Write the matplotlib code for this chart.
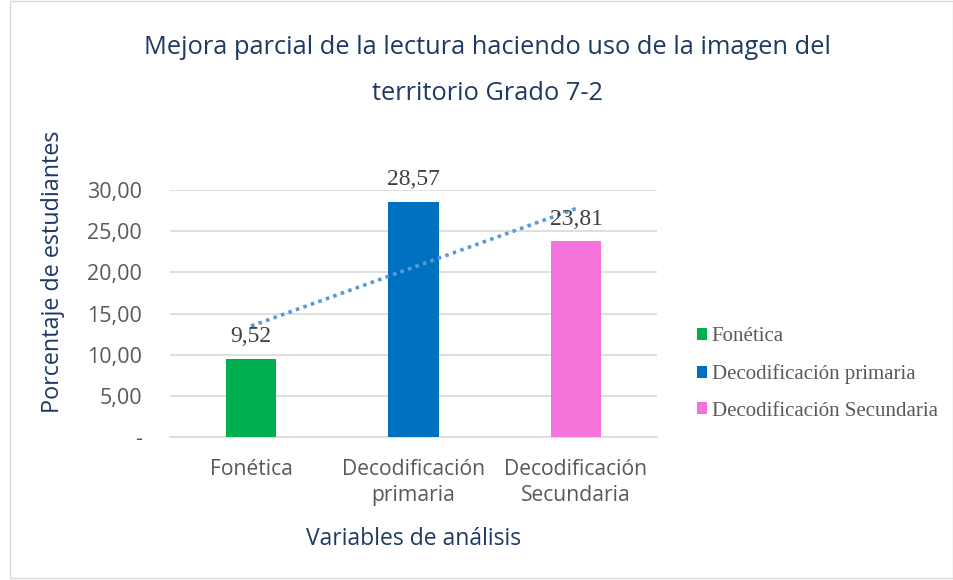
import numpy as np
import matplotlib
matplotlib.use("Agg")
import matplotlib.pyplot as plt
from matplotlib.patches import Rectangle

categories = ["Fonética", "Decodificación primaria", "Decodificación Secundaria"]
tick_labels = ["Fonética", "Decodificación\nprimaria", "Decodificación\nSecundaria"]
values = [9.52, 28.57, 23.81]
colors = ["#00B050", "#0070C0", "#F474DC"]
yticks = [0, 5, 10, 15, 20, 25, 30]

navy = "#1F3864"
sans = ["Open Sans", "DejaVu Sans"]
serif = ["Liberation Serif", "DejaVu Serif"]

fig = plt.figure(figsize=(9.54, 5.8), dpi=100)
ax = fig.add_axes([0.178, 0.2466, 0.511, 0.4254])

x = np.arange(len(values))
bars = ax.bar(x, values, width=0.31, color=colors, label=categories, zorder=3)

# linear trend line (Excel style)
k, b = np.polyfit(x, values, 1)
ax.plot(x, k * x + b, ls=(0, (1, 1.2)), lw=2.6, color="#5B9BD5", zorder=4)

for xi, v in zip(x, values):
    ax.text(xi, v + 1.4, f"{v:.2f}".replace(".", ","), ha="center", va="bottom",
            family=serif, fontsize=17, color="#404040", zorder=5)

ax.set_xlim(-0.5, 2.5)
ax.set_ylim(0, 30)
ax.set_yticks(yticks)
ax.set_yticklabels(["-" if t == 0 else f"{t:.2f}".replace(".", ",") for t in yticks],
                   family=sans, fontsize=15.5, color="#595959")
ax.set_xticks(x)
ax.set_xticklabels(tick_labels, family=sans, fontsize=15.2, color="#595959", linespacing=1.3)
ax.tick_params(length=0)
ax.tick_params(axis="x", pad=16)
ax.tick_params(axis="y", pad=20)
ax.grid(axis="y", color="#D9D9D9", lw=1.2, zorder=0)
for s in ["top", "right", "left"]:
    ax.spines[s].set_visible(False)
ax.spines["bottom"].set_color("#D9D9D9")
ax.spines["bottom"].set_linewidth(1.2)

ax.set_ylabel("Porcentaje de estudiantes", family=sans, fontsize=16.8, color=navy,
              labelpad=16, y=0.668)
ax.set_xlabel("Variables de análisis", family=sans, fontsize=16.5, color=navy, labelpad=15)

fig.text(0.511, 0.918, "Mejora parcial de la lectura haciendo uso de la imagen del",
         ha="center", va="center", family=sans, fontsize=18.3, color=navy)
fig.text(0.511, 0.839, "territorio Grado 7-2",
         ha="center", va="center", family=sans, fontsize=18.3, color=navy)

leg = fig.legend(handles=bars, labels=categories, loc="center left",
                 bbox_to_anchor=(0.711, 0.355), frameon=False,
                 prop={"family": serif, "size": 15}, handlelength=0.5, handleheight=0.5,
                 handletextpad=0.2, labelspacing=0.85, labelcolor="#595959")

fig.patches.append(Rectangle((0.011, 0.003), 0.988, 0.995, transform=fig.transFigure,
                             fill=False, ec="#D9D9D9", lw=1))

fig.savefig("out.png", dpi=100)
